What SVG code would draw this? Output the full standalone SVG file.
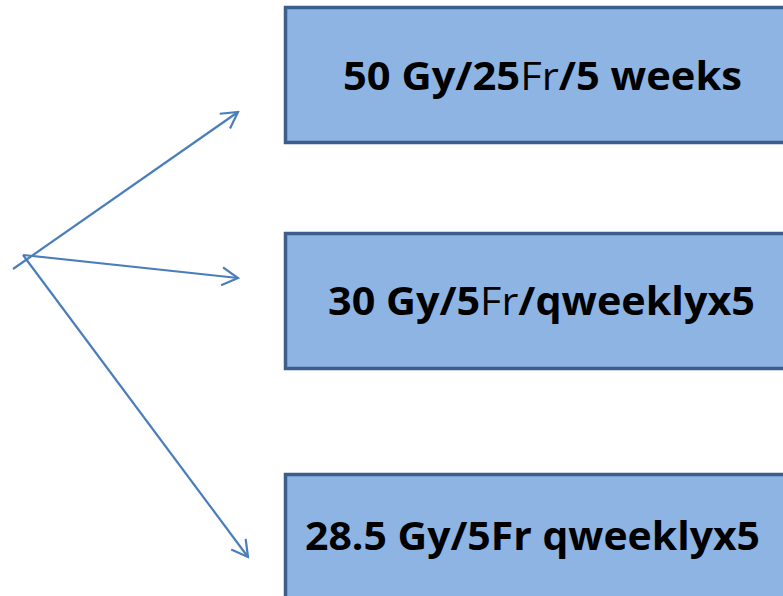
<svg xmlns="http://www.w3.org/2000/svg" width="783" height="596" viewBox="0 0 783 596">
<style>
.box{fill:#8EB4E3;stroke:#3B5E8C;stroke-width:3.5}
.t{font-family:"Open Sans","Liberation Sans",sans-serif;font-weight:bold;font-size:39px;fill:#000}
.n{font-weight:normal}
.c{fill:none;stroke:#4A7EBB;stroke-width:2.2}
</style>
<defs>
<marker id="a" viewBox="0 0 22 22" refX="20" refY="11" markerWidth="22" markerHeight="22" markerUnits="userSpaceOnUse" orient="auto">
<path d="M4,2 L20,11 L4,20" fill="none" stroke="#4A7EBB" stroke-width="2.2"/>
</marker>
</defs>
<rect width="783" height="596" fill="#fff"/>
<g id="connectors">
<line class="c" x1="13" y1="269" x2="238" y2="112" marker-end="url(#a)"/>
<line class="c" x1="23" y1="255" x2="238" y2="278" marker-end="url(#a)"/>
<line class="c" x1="23" y1="255" x2="248" y2="557" marker-end="url(#a)"/>
</g>
<g id="box1">
<rect class="box" x="285.5" y="7.5" width="510" height="135"/>
<text class="t" x="343" y="90" textLength="399" lengthAdjust="spacingAndGlyphs">50 Gy/25<tspan class="n">Fr</tspan>/5 weeks</text>
</g>
<g id="box2">
<rect class="box" x="285.5" y="233.5" width="510" height="135"/>
<text class="t" x="328" y="315" textLength="427" lengthAdjust="spacingAndGlyphs">30 Gy/5<tspan class="n">Fr</tspan>/qweeklyx5</text>
</g>
<g id="box3">
<rect class="box" x="285.5" y="474.5" width="510" height="135"/>
<text class="t" x="305" y="550" textLength="455" lengthAdjust="spacingAndGlyphs">28.5 Gy/5Fr qweeklyx5</text>
</g>
</svg>
